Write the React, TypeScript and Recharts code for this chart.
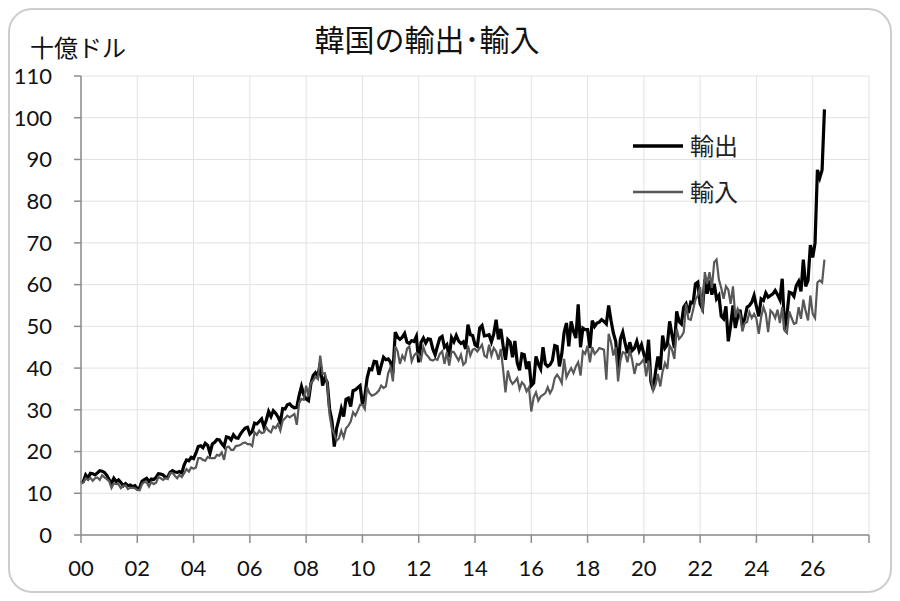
import React from "react";
import { LineChart, Line, XAxis, YAxis, CartesianGrid, Legend } from "recharts";

// Monthly values, Jan 2000 – Jun 2026 (billion USD)
const exportsValues: number[] = [
  // 2000
  12.5, 12.8, 14.4, 13.6, 14.8, 14.7, 14.4, 14.9, 15.4, 15.3, 15.0, 14.3,
  // 2001
  13.3, 12.4, 13.6, 12.8, 13.2, 12.6, 11.8, 12.3, 11.8, 12.0, 11.6, 11.8,
  // 2002
  11.1, 11.3, 12.9, 13.3, 13.6, 12.8, 13.4, 13.3, 13.8, 14.7, 14.6, 14.4,
  // 2003
  13.8, 13.9, 15.0, 15.4, 15.1, 15.0, 15.2, 14.9, 16.8, 18.0, 17.8, 18.6,
  // 2004
  18.3, 19.6, 21.2, 21.4, 20.9, 22.0, 21.5, 19.6, 21.8, 22.2, 22.9, 22.8,
  // 2005
  21.9, 21.2, 23.5, 23.4, 22.8, 24.0, 23.3, 23.2, 24.2, 25.0, 25.6, 25.8,
  // 2006
  24.2, 24.8, 26.8, 26.6, 27.2, 27.8, 25.9, 27.5, 29.6, 28.4, 29.8, 29.2,
  // 2007
  28.3, 27.0, 30.3, 30.2, 31.2, 31.4, 30.8, 30.5, 30.6, 33.4, 35.6, 33.6,
  // 2008
  32.6, 32.2, 36.2, 38.2, 38.9, 38.0, 41.2, 35.8, 37.6, 36.6, 30.2, 27.4,
  // 2009
  21.2, 25.6, 27.8, 30.3, 28.4, 32.5, 32.8, 30.8, 34.6, 34.8, 35.3, 35.8,
  // 2010
  31.3, 33.2, 37.6, 39.8, 39.6, 41.6, 41.5, 38.4, 40.6, 42.6, 42.0, 42.2,
  // 2011
  41.4, 38.8, 48.6, 47.4, 46.9, 47.4, 48.3, 46.2, 45.9, 46.6, 46.4, 47.6,
  // 2012
  41.4, 46.2, 47.2, 46.0, 47.0, 46.9, 44.6, 43.2, 45.3, 47.2, 47.6, 45.0,
  // 2013
  45.6, 42.6, 47.3, 46.3, 47.8, 46.5, 45.9, 46.3, 44.6, 50.4, 48.0, 47.8,
  // 2014
  45.6, 45.2, 49.6, 50.2, 47.7, 47.8, 48.0, 46.3, 48.2, 51.6, 46.9, 49.4,
  // 2015
  45.3, 42.0, 46.8, 46.2, 42.6, 46.5, 41.3, 39.5, 43.4, 43.2, 39.8, 41.6,
  // 2016
  35.8, 36.4, 42.8, 41.0, 39.8, 45.0, 41.0, 40.4, 40.8, 41.8, 45.4, 45.2,
  // 2017
  40.4, 43.4, 48.6, 50.8, 45.2, 51.2, 48.8, 47.2, 55.3, 45.0, 49.6, 49.2,
  // 2018
  49.2, 44.8, 51.4, 50.0, 50.8, 51.0, 51.6, 51.2, 50.6, 55.0, 51.4, 48.4,
  // 2019
  46.4, 39.8, 47.0, 48.6, 46.0, 43.6, 46.2, 44.2, 44.8, 46.4, 44.2, 45.6,
  // 2020
  43.4, 41.2, 46.8, 36.8, 34.8, 39.2, 42.8, 39.6, 47.8, 44.8, 45.6, 51.2,
  // 2021
  48.0, 44.8, 53.6, 51.2, 50.6, 54.6, 55.4, 53.2, 55.8, 55.6, 60.2, 60.6,
  // 2022
  55.4, 54.2, 61.2, 57.8, 61.0, 57.6, 60.2, 56.6, 57.4, 52.4, 51.8, 54.8,
  // 2023
  46.4, 50.2, 55.0, 49.6, 52.2, 54.0, 50.4, 51.8, 54.6, 55.0, 55.8, 57.4,
  // 2024
  54.8, 52.4, 56.6, 56.2, 58.0, 57.0, 57.4, 57.8, 58.6, 57.6, 56.4, 61.4,
  // 2025
  49.2, 52.6, 58.2, 58.0, 57.2, 59.8, 60.8, 58.4, 66.0, 59.6, 61.0, 69.5,
  // 2026
  66.5, 70.0, 87.5, 85.6, 87.5, 102.0,
];

const importsValues: number[] = [
  // 2000
  12.3, 12.6, 13.6, 13.2, 13.7, 13.0, 13.6, 13.8, 13.2, 14.3, 13.8, 13.4,
  // 2001
  12.9, 11.3, 12.4, 12.2, 12.2, 11.2, 11.8, 11.9, 11.0, 11.3, 11.3, 11.2,
  // 2002
  10.8, 10.7, 12.2, 12.7, 12.6, 11.6, 12.7, 12.2, 12.5, 13.9, 13.6, 13.2,
  // 2003
  13.6, 13.4, 14.8, 14.9, 14.2, 13.6, 14.4, 13.9, 14.8, 15.8, 15.2, 16.2,
  // 2004
  15.9, 16.2, 18.4, 18.4, 18.0, 17.8, 18.7, 18.4, 18.4, 18.4, 19.2, 19.0,
  // 2005
  19.8, 18.0, 21.0, 21.2, 20.4, 20.4, 21.3, 21.4, 21.6, 22.0, 22.2, 21.8,
  // 2006
  21.8, 21.3, 24.6, 24.0, 25.0, 24.4, 24.6, 25.8, 25.0, 24.6, 26.0, 25.6,
  // 2007
  26.6, 25.0, 27.4, 28.0, 28.6, 28.2, 28.6, 29.0, 26.4, 31.6, 32.6, 32.4,
  // 2008
  35.8, 33.2, 36.4, 37.0, 38.0, 37.4, 43.0, 38.6, 38.8, 36.4, 28.8, 25.4,
  // 2009
  24.2, 22.6, 23.2, 25.0, 23.4, 25.6, 26.2, 27.2, 29.4, 28.6, 29.8, 31.2,
  // 2010
  31.2, 30.2, 35.4, 34.0, 33.4, 33.6, 34.0, 34.6, 35.8, 35.2, 35.6, 38.8,
  // 2011
  40.2, 36.8, 45.2, 44.0, 41.0, 43.0, 42.0, 44.6, 45.2, 41.6, 43.0, 43.6,
  // 2012
  43.2, 42.0, 45.0, 43.4, 42.8, 42.0, 41.8, 42.2, 42.0, 43.4, 44.0, 41.0,
  // 2013
  43.8, 40.6, 44.0, 43.8, 42.8, 41.8, 43.2, 40.8, 41.4, 45.4, 43.0, 44.4,
  // 2014
  44.6, 44.0, 44.8, 45.6, 43.0, 42.6, 45.6, 43.0, 44.8, 44.0, 42.0, 44.6,
  // 2015
  39.6, 34.2, 39.4, 37.2, 36.2, 36.8, 37.6, 35.0, 36.6, 36.0, 34.4, 35.4,
  // 2016
  29.6, 33.0, 34.2, 32.2, 33.2, 33.6, 34.0, 35.4, 34.0, 35.0, 37.6, 38.4,
  // 2017
  37.6, 36.4, 42.2, 37.8, 39.0, 40.0, 38.8, 40.4, 41.4, 38.2, 44.0, 43.4,
  // 2018
  45.4, 41.4, 45.0, 43.4, 44.0, 44.8, 44.6, 44.4, 37.2, 48.2, 46.2, 43.0,
  // 2019
  45.0, 36.8, 41.8, 43.8, 43.6, 41.4, 44.4, 42.0, 38.6, 41.0, 40.8, 41.4,
  // 2020
  42.2, 38.0, 41.8, 37.8, 34.6, 36.0, 38.6, 35.6, 39.2, 41.2, 39.8, 45.4,
  // 2021
  44.4, 42.2, 49.4, 47.0, 47.6, 48.6, 55.4, 51.8, 51.6, 54.0, 56.4, 57.4,
  // 2022
  59.4, 53.4, 63.0, 60.2, 63.0, 59.2, 65.4, 66.0, 61.2, 59.2, 56.6, 59.6,
  // 2023
  58.8, 55.4, 59.6, 52.2, 54.2, 53.0, 48.8, 50.8, 51.0, 53.4, 52.0, 53.0,
  // 2024
  51.8, 48.2, 52.2, 54.6, 53.0, 48.6, 53.8, 53.2, 52.0, 54.0, 50.8, 54.6,
  // 2025
  49.0, 48.4, 53.6, 52.0, 50.6, 50.8, 54.6, 51.8, 56.4, 53.6, 51.4, 57.4,
  // 2026
  53.0, 52.0, 60.5, 61.0, 60.5, 66.0,
];

const xTicks: number[] = [0, 24, 48, 72, 96, 120, 144, 168, 192, 216, 240, 264, 288, 312, 336];
const xTickLabels: string[] = ["00", "02", "04", "06", "08", "10", "12", "14", "16", "18", "20", "22", "24", "26", ""];
const yTicks: number[] = [0, 10, 20, 30, 40, 50, 60, 70, 80, 90, 100, 110];

const seriesOrder: string[] = ["ex", "im"];
const seriesNames: Record<string, string> = { ex: "輸出", im: "輸入" };

const data = exportsValues.map((v, i) => ({ t: i, ex: v, im: importsValues[i] }));

const CJK = "'Noto Sans CJK JP', 'Noto Sans CJK SC', sans-serif";
const NUM = "Lato, 'Open Sans', sans-serif";

const LegendContent = (props: any) => {
  const payload = [...(props.payload || [])].sort(
    (a: any, b: any) => seriesOrder.indexOf(a.dataKey) - seriesOrder.indexOf(b.dataKey)
  );
  return (
    <svg width={130} height={90} style={{ display: "block" }}>
      {payload.map((p: any, i: number) => (
        <g key={p.dataKey} transform={`translate(0, ${i * 46})`}>
          <line
            x1={0}
            x2={50}
            y1={20}
            y2={20}
            stroke={p.color}
            strokeWidth={p.dataKey === "ex" ? 3.5 : 2.5}
          />
          <text x={57} y={20} dy="0.36em" fontSize={24} fontFamily={CJK} fill="#222">
            {p.value}
          </text>
        </g>
      ))}
    </svg>
  );
};

export default function App() {
  return (
    <div style={{ position: "relative", width: 884, height: 585 }}>
      <div
        style={{
          position: "absolute",
          left: 0,
          top: 0,
          width: 884,
          height: 585,
          border: "2px solid #cdcdcd",
          borderRadius: 24,
          boxSizing: "border-box",
          pointerEvents: "none",
        }}
      />
      <div
        style={{
          position: "absolute",
          left: 419,
          top: 12,
          transform: "translateX(-50%)",
          fontFamily: CJK,
          fontSize: 30,
          lineHeight: "36px",
          color: "#111",
          whiteSpace: "nowrap",
        }}
      >
        韓国の輸出･輸入
      </div>
      <div
        style={{
          position: "absolute",
          left: 22,
          top: 27,
          fontFamily: CJK,
          fontSize: 24,
          lineHeight: "24px",
          color: "#111",
          whiteSpace: "nowrap",
        }}
      >
        十億ドル
      </div>
      <div style={{ position: "absolute", left: 0, top: 0 }}>
        <LineChart
          width={884}
          height={585}
          data={data}
          margin={{ top: 68, right: 23, left: 13, bottom: 28 }}
        >
          <CartesianGrid stroke="#e2e2e2" strokeWidth={1} />
          <XAxis
            dataKey="t"
            type="number"
            domain={[0, 336]}
            ticks={xTicks}
            interval={0}
            tickFormatter={(v: number) => xTickLabels[xTicks.indexOf(v)] ?? ""}
            height={30}
            tickSize={8}
            tickMargin={17}
            axisLine={{ stroke: "#8c8c8c", strokeWidth: 1.5 }}
            tickLine={{ stroke: "#8c8c8c", strokeWidth: 1.5 }}
            tick={{ fontFamily: NUM, fontSize: 22, fill: "#111" }}
          />
          <YAxis
            type="number"
            domain={[0, 110]}
            ticks={yTicks}
            interval={0}
            width={60}
            tickSize={7}
            tickMargin={22}
            axisLine={{ stroke: "#8c8c8c", strokeWidth: 1.5 }}
            tickLine={{ stroke: "#8c8c8c", strokeWidth: 1.5 }}
            tick={{ fontFamily: NUM, fontSize: 22, fill: "#111" }}
          />
          <Line
            type="linear"
            dataKey="ex"
            name={seriesNames.ex}
            stroke="#000000"
            strokeWidth={3.2}
            dot={false}
            isAnimationActive={false}
          />
          <Line
            type="linear"
            dataKey="im"
            name={seriesNames.im}
            stroke="#585858"
            strokeWidth={2.2}
            dot={false}
            isAnimationActive={false}
          />
          <Legend
            layout="vertical"
            align="center"
            verticalAlign="middle"
            content={<LegendContent />}
            wrapperStyle={{ position: "absolute", left: 625, top: 118, width: 130, height: 90 }}
          />
        </LineChart>
      </div>
    </div>
  );
}
